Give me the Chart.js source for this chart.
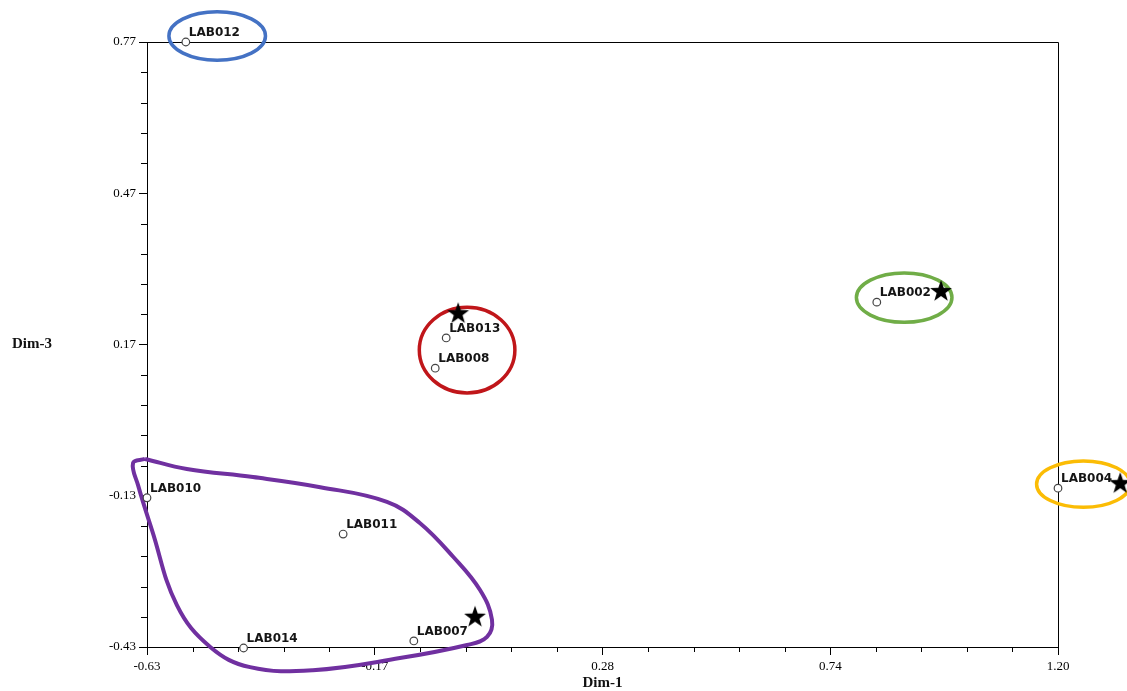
<!DOCTYPE html>
<html>
<head>
<meta charset="utf-8">
<script src="https://cdn.jsdelivr.net/npm/chart.js@4.4.1/dist/chart.umd.min.js"></script>
<style>
  html, body { margin: 0; padding: 0; background: #fff; }
  #wrap { width: 1127px; height: 691px; }
</style>
</head>
<body>
<div id="wrap"><canvas id="dims"></canvas></div>
<script>
// Axis ranges and tick labels
const X_MIN = -0.63, X_MAX = 1.20;
const Y_MIN = -0.43, Y_MAX = 0.77;
const xTickLabels = ['-0.63', '-0.17', '0.28', '0.74', '1.20'];
const yTickLabels = ['-0.43', '-0.13', '0.17', '0.47', '0.77'];

// Labs (open circles)
const labNames = ['LAB012', 'LAB013', 'LAB008', 'LAB002', 'LAB004', 'LAB010', 'LAB011', 'LAB014', 'LAB007'];
const labX = [-0.552, -0.029, -0.051, 0.836, 1.200, -0.630, -0.236, -0.436, -0.094];
const labY = [0.770, 0.183, 0.123, 0.254, -0.115, -0.134, -0.206, -0.432, -0.418];

// Stars
const starX = [-0.005, 0.965, 1.325, 0.029];
const starY = [0.232, 0.276, -0.105, -0.370];

// Hand-drawn group outlines: ellipses (centre and radii in data units)
const ellipseColors = ['#4472c4', '#c0161a', '#70ad47', '#fbbc05'];
const ellipseCx = [-0.489, 0.013, 0.891, 1.251];
const ellipseCy = [0.782, 0.159, 0.263, -0.107];
const ellipseRx = [0.097, 0.096, 0.096, 0.094];
const ellipseRy = [0.048, 0.085, 0.049, 0.046];

// Purple freehand outline
const outlineX = [-0.634, -0.550, -0.417, -0.282, -0.148, -0.082, -0.015, 0.039, 0.063, 0.053, 0.013,
  -0.122, -0.297, -0.423, -0.503, -0.570, -0.620, -0.648, -0.658, -0.634];
const outlineY = [-0.057, -0.077, -0.093, -0.113, -0.142, -0.184, -0.251, -0.317, -0.376, -0.410, -0.426,
  -0.452, -0.476, -0.470, -0.430, -0.347, -0.198, -0.109, -0.065, -0.057];

const xTickValues = xTickLabels.map((_, i) => X_MIN + i * (X_MAX - X_MIN) / (xTickLabels.length - 1));
const yTickValues = yTickLabels.map((_, i) => Y_MIN + i * (Y_MAX - Y_MIN) / (yTickLabels.length - 1));

const toPoints = (xs, ys) => xs.map((x, i) => ({ x, y: ys[i] }));

// filled five point star used as point style
const star = document.createElement('canvas');
star.width = 24; star.height = 24;
(() => {
  const c = star.getContext('2d');
  c.beginPath();
  for (let i = 0; i < 10; i++) {
    const r = i % 2 === 0 ? 11.5 : 4.6;
    const a = -Math.PI / 2 + i * Math.PI / 5;
    c.lineTo(12 + r * Math.cos(a), 12.5 + r * Math.sin(a));
  }
  c.closePath();
  c.fillStyle = '#000';
  c.fill();
})();

const serif = '"Liberation Serif", "Times New Roman", serif';

const extras = {
  id: 'extras',
  beforeDatasetsDraw(chart) {
    const { ctx, chartArea: a, scales: { x, y } } = chart;
    ctx.save();
    ctx.strokeStyle = '#000';
    ctx.lineWidth = 1;
    // frame top and right
    ctx.beginPath();
    ctx.moveTo(Math.round(a.left) + 0.5, Math.round(a.top) + 0.5);
    ctx.lineTo(Math.round(a.right) + 0.5, Math.round(a.top) + 0.5);
    ctx.lineTo(Math.round(a.right) + 0.5, Math.round(a.bottom) + 0.5);
    ctx.stroke();
    // minor ticks
    ctx.beginPath();
    for (let i = 0; i < xTickValues.length - 1; i++) {
      const p0 = x.getPixelForValue(xTickValues[i]);
      const p1 = x.getPixelForValue(xTickValues[i + 1]);
      for (let k = 1; k < 5; k++) {
        const px = Math.round(p0 + (p1 - p0) * k / 5) + 0.5;
        ctx.moveTo(px, a.bottom);
        ctx.lineTo(px, a.bottom + 5);
      }
    }
    for (let i = 0; i < yTickValues.length - 1; i++) {
      const p0 = y.getPixelForValue(yTickValues[i]);
      const p1 = y.getPixelForValue(yTickValues[i + 1]);
      for (let k = 1; k < 5; k++) {
        const py = Math.round(p0 + (p1 - p0) * k / 5) + 0.5;
        ctx.moveTo(a.left - 6, py);
        ctx.lineTo(a.left, py);
      }
    }
    ctx.stroke();
    // horizontal y title
    ctx.fillStyle = '#111';
    ctx.font = 'bold 15px ' + serif;
    ctx.textBaseline = 'middle';
    ctx.textAlign = 'left';
    ctx.fillText('Dim-3', 12, (a.top + a.bottom) / 2);
    // ellipses
    ctx.lineWidth = 3.5;
    ellipseCx.forEach((cx, i) => {
      const px = x.getPixelForValue(cx);
      const py = y.getPixelForValue(ellipseCy[i]);
      const rx = Math.abs(x.getPixelForValue(cx + ellipseRx[i]) - px);
      const ry = Math.abs(y.getPixelForValue(ellipseCy[i] + ellipseRy[i]) - py);
      ctx.strokeStyle = ellipseColors[i];
      ctx.beginPath();
      ctx.ellipse(px, py, rx, ry, 0, 0, Math.PI * 2);
      ctx.stroke();
    });
    ctx.restore();
  },
  afterDatasetsDraw(chart) {
    const { ctx, scales: { x, y } } = chart;
    ctx.save();
    // point labels
    ctx.fillStyle = '#151515';
    ctx.font = 'bold 12px "DejaVu Sans", Verdana, sans-serif';
    ctx.textBaseline = 'middle';
    ctx.textAlign = 'left';
    labNames.forEach((n, i) => {
      ctx.fillText(n, x.getPixelForValue(labX[i]) + 3, y.getPixelForValue(labY[i]) - 9);
    });
    ctx.restore();
  },
};

const ctx = document.getElementById('dims');
// eslint-disable-next-line no-unused-vars
const chart = new Chart(ctx, {
  type: 'scatter',
  data: {
    datasets: [
      // Labs
      {
        label: 'Labs',
        data: toPoints(labX, labY),
        pointRadius: 3.8,
        borderWidth: 1.2,
        borderColor: '#444',
        backgroundColor: '#fff',
        clip: false,
      },
      // Stars
      {
        label: 'Stars',
        data: toPoints(starX, starY),
        pointStyle: star,
        pointRadius: 80, // image keeps its own size, radius only avoids culling
        clip: false,
      },
      // Purple group outline
      {
        label: 'Group',
        data: toPoints(outlineX, outlineY),
        showLine: true,
        tension: 0.4,
        capBezierPoints: false,
        pointRadius: 0,
        borderColor: '#7030a0',
        borderWidth: 4,
        clip: false,
      },
    ],
  },
  options: {
    responsive: true,
    maintainAspectRatio: false,
    animation: false,
    layout: {
      autoPadding: false,
      padding: { top: 42, right: 69, bottom: 0, left: 0 },
    },
    scales: {
      x: {
        type: 'linear',
        min: X_MIN,
        max: X_MAX,
        afterBuildTicks: (s) => { s.ticks = xTickValues.map((v) => ({ value: v })); },
        afterFit: (s) => { s.height = 44; },
        grid: { drawOnChartArea: false, tickLength: 8, tickColor: '#000' },
        border: { color: '#000', width: 1 },
        ticks: {
          autoSkip: false,
          maxRotation: 0,
          padding: 4,
          color: '#000',
          font: { family: serif, size: 13 },
          callback: (v, i) => xTickLabels[i],
        },
        title: {
          display: true,
          text: 'Dim-1',
          color: '#111',
          padding: 0,
          font: { family: serif, size: 15, weight: 'bold', lineHeight: 1 },
        },
      },
      y: {
        type: 'linear',
        min: Y_MIN,
        max: Y_MAX,
        afterBuildTicks: (s) => { s.ticks = yTickValues.map((v) => ({ value: v })); },
        afterFit: (s) => { s.width = 147; },
        grid: { drawOnChartArea: false, tickLength: 8, tickColor: '#000' },
        border: { color: '#000', width: 1 },
        ticks: {
          autoSkip: false,
          padding: 3,
          color: '#000',
          font: { family: serif, size: 13 },
          callback: (v, i) => yTickLabels[i],
        },
      },
    },
    plugins: {
      legend: { display: false },
      tooltip: { enabled: false },
    },
  },
  plugins: [extras],
});
</script>
</body>
</html>
